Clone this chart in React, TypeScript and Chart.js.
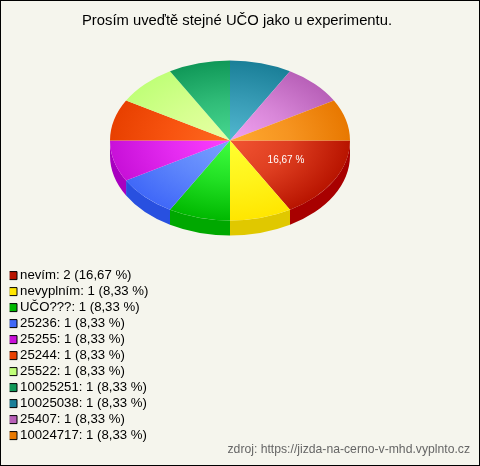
import React, { useEffect, useRef } from "react";
import { Chart, registerables } from "chart.js";

Chart.register(...registerables);

const TITLE = "Prosím uveďtě stejné UČO jako u experimentu.";
const SOURCE = "zdroj: https://jizda-na-cerno-v-mhd.vyplnto.cz";
const categories = ["nevím", "nevyplním", "UČO???", "25236", "25255", "25244", "25522", "10025251", "10025038", "25407", "10024717"];
const counts = [2, 1, 1, 1, 1, 1, 1, 1, 1, 1, 1];
const shares = ["16,67 %", "8,33 %", "8,33 %", "8,33 %", "8,33 %", "8,33 %", "8,33 %", "8,33 %", "8,33 %", "8,33 %", "8,33 %"];
const innerColors = ["#f25432", "#ffff30", "#40ff40", "#7aa2ff", "#ff40ff", "#ff6a20", "#e8ffa4", "#48d890", "#52b8d0", "#f2a2f2", "#ffaa30"];
const middleColors = ["#de3e20", "#fff41c", "#22e024", "#6088fc", "#e42af0", "#f85410", "#d6ff90", "#30bc78", "#389cb6", "#d886d8", "#f69420"];
const outerColors = ["#b81400", "#ffe600", "#00b800", "#4068f8", "#c810d8", "#e84000", "#c0ff78", "#109858", "#1a7f98", "#b860b8", "#e87800"];
const wallColors = ["#a80000", "#e0c800", "#00a800", "#2850e0", "#a800c0", "#a80000", "#a80000", "#a80000", "#a80000", "#a80000", "#a80000"];

const BG = "#f5f5ed";
const SQUASH = 2 / 3;
const DEPTH = 15;
const PIE = { left: 110, right: 350, top: 20.5, bottom: 260.5 };

const piePlugin = {
  id: "pie3d",
  beforeDraw(chart: any) {
    const { ctx, width, height } = chart;
    ctx.save();
    ctx.fillStyle = BG;
    ctx.fillRect(0, 0, width, height);
    ctx.strokeStyle = "#000";
    ctx.lineWidth = 1;
    ctx.strokeRect(0.5, 0.5, width - 1, height - 1);
    ctx.restore();
  },
  afterLayout(chart: any) {
    chart.chartArea = {
      ...PIE,
      width: PIE.right - PIE.left,
      height: PIE.bottom - PIE.top,
    };
  },
  beforeDatasetsDraw(chart: any) {
    const { ctx } = chart;
    const meta = chart.getDatasetMeta(0);
    ctx.save();
    meta.data.forEach((arc: any, i: number) => {
      const { x, y, startAngle, endAngle, outerRadius } = arc.getProps(["x", "y", "startAngle", "endAngle", "outerRadius"], true);
      const a0 = Math.max(startAngle, 0);
      const a1 = Math.min(endAngle, Math.PI);
      if (a1 <= a0) return;
      ctx.beginPath();
      ctx.ellipse(x, y, outerRadius, outerRadius * SQUASH, 0, a0, a1);
      ctx.ellipse(x, y + DEPTH, outerRadius, outerRadius * SQUASH, 0, a1, a0, true);
      ctx.closePath();
      ctx.fillStyle = wallColors[i];
      ctx.fill();
    });
    const cy = (PIE.top + PIE.bottom) / 2;
    ctx.translate(0, cy);
    ctx.scale(1, SQUASH);
    ctx.translate(0, -cy);
  },
  afterDatasetsDraw(chart: any) {
    const { ctx, width, height } = chart;
    ctx.restore();
    const cy = (PIE.top + PIE.bottom) / 2;
    const meta = chart.getDatasetMeta(0);
    ctx.save();
    ctx.textAlign = "center";
    ctx.textBaseline = "middle";
    ctx.fillStyle = "#fff";
    ctx.font = "10px 'Liberation Sans'";
    meta.data.forEach((arc: any, i: number) => {
      if (counts[i] < 2) return;
      const p = arc.getCenterPoint(true);
      ctx.fillText(shares[i], p.x + 4, cy + (p.y - cy) * SQUASH);
    });
    ctx.textAlign = "right";
    ctx.textBaseline = "alphabetic";
    ctx.fillStyle = "#666";
    ctx.font = "12.2px 'Liberation Sans'";
    ctx.fillText(SOURCE, width - 10, height - 13);
    ctx.restore();
  },
};

export default function App() {
  const ref = useRef<HTMLCanvasElement>(null);
  useEffect(() => {
    document.body.style.margin = "0";
    const chart = new Chart(ref.current as HTMLCanvasElement, {
      type: "pie",
      data: {
        labels: categories,
        datasets: [
          {
            data: counts,
            borderWidth: 0,
            backgroundColor: (c: any) => {
              const g = c.chart.ctx.createRadialGradient(230, 140.5, 0, 230, 140.5, 120);
              g.addColorStop(0, innerColors[c.dataIndex]);
              g.addColorStop(0.5, middleColors[c.dataIndex]);
              g.addColorStop(1, outerColors[c.dataIndex]);
              return g;
            },
          },
        ],
      },
      options: {
        animation: false,
        responsive: false,
        rotation: 90,
        layout: { padding: { left: 9.7, top: 0, right: 15.7, bottom: 21 } },
        plugins: {
          tooltip: { enabled: false },
          title: {
            display: true,
            text: TITLE,
            color: "#000",
            font: { family: "'Liberation Sans'", size: 14.8, weight: "normal" },
            padding: { top: 12, bottom: 10 },
          },
          legend: {
            position: "left",
            align: "end",
            labels: {
              usePointStyle: true,
              pointStyle: "rect",
              boxWidth: 1,
              boxHeight: 8,
              padding: 2.8,
              color: "#000",
              font: { family: "'Liberation Sans'", size: 13.2 },
              generateLabels: () =>
                categories.map((name, i) => ({
                  text: `${name}: ${counts[i]} (${shares[i]})`,
                  fillStyle: outerColors[i],
                  strokeStyle: "#000",
                  lineWidth: 1,
                  pointStyle: "rect",
                  index: i,
                })),
            },
          },
        },
      } as any,
      plugins: [piePlugin],
    });
    return () => chart.destroy();
  }, []);
  return <canvas ref={ref} width={480} height={466} style={{ display: "block", width: 480, height: 466 }} />;
}
